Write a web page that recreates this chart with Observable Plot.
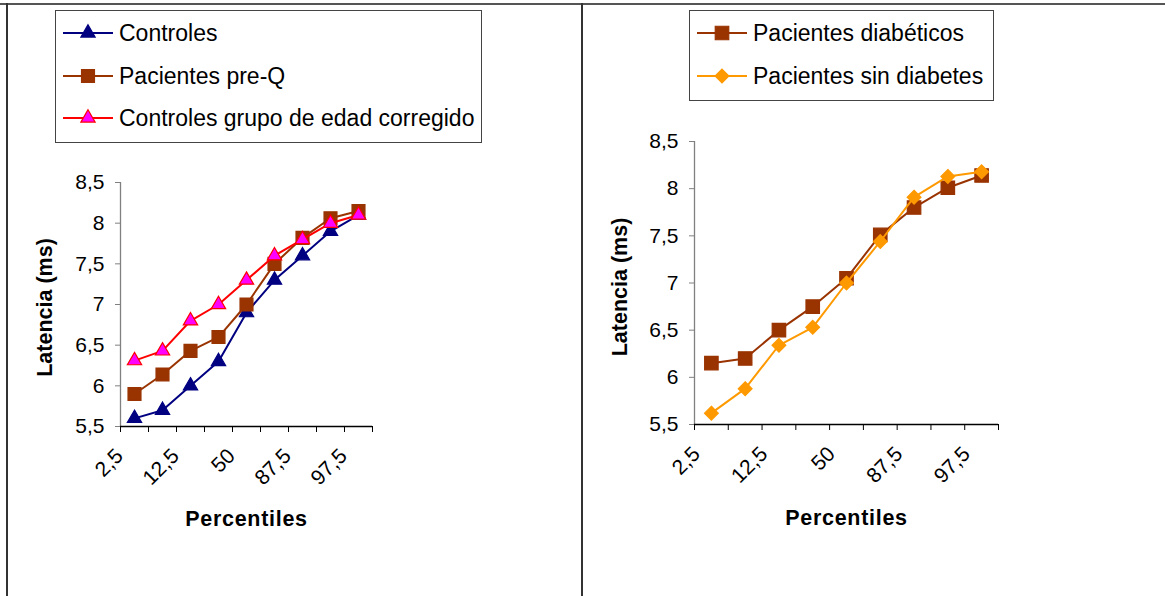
<!DOCTYPE html>
<html><head><meta charset="utf-8">
<script src="https://cdn.jsdelivr.net/npm/d3@7"></script>
<script src="https://cdn.jsdelivr.net/npm/@observablehq/plot@0.6"></script>
<style>
body{margin:0;background:#fff;font-family:"Liberation Sans",Arial,sans-serif;}
#page{position:relative;width:1165px;height:596px;overflow:hidden;background:#fff;}
.panel{position:absolute;top:0;}
.panel svg{display:block;}
.legend{position:absolute;border:1px solid #444;background:#fff;box-sizing:border-box;color:#000;}
.item{position:absolute;display:flex;align-items:center;white-space:nowrap;height:26px;font-size:23px;line-height:26px;}
.item svg{flex:none;margin-right:6px;}
.rule{position:absolute;background:#333;}
</style></head><body><div id="page"></div>
<script>
// ---- data ----
const percentiles = ["2,5","5","12,5","25","50","75","87,5","95","97,5"];
const xTickLabels = ["2,5","12,5","50","87,5","97,5"];
const yTicks = [5.5,6,6.5,7,7.5,8,8.5];
const controles      = [5.6, 5.7, 6.0, 6.3, 6.9, 7.3, 7.6, 7.9, 8.1];
const pacientesPreQ  = [5.9, 6.14, 6.43, 6.6, 7.0, 7.5, 7.82, 8.06, 8.15];
const controlesEdad  = [6.31, 6.43, 6.8, 7.0, 7.3, 7.6, 7.8, 8.0, 8.1];
const diabeticos     = [6.15, 6.2, 6.5, 6.75, 7.05, 7.51, 7.8, 8.01, 8.14];
const sinDiabetes    = [5.62, 5.88, 6.34, 6.53, 7.0, 7.44, 7.91, 8.13, 8.18];

const seriesLeft = [
  {name:"Controles", values:controles, line:"#000080", fill:"#000080", stroke:"#000080", symbol:"triangle", r:5.3},
  {name:"Pacientes pre-Q", values:pacientesPreQ, line:"#993300", fill:"#993300", stroke:"#993300", symbol:"square", r:7.3},
  {name:"Controles grupo de edad corregido", values:controlesEdad, line:"#FF0000", fill:"#FF00FF", stroke:"#FF0000", symbol:"triangle", r:5.3}
];
const seriesRight = [
  {name:"Pacientes diabéticos", values:diabeticos, line:"#993300", fill:"#993300", stroke:"#993300", symbol:"square", r:7.6},
  {name:"Pacientes sin diabetes", values:sinDiabetes, line:"#FF9900", fill:"#FF9900", stroke:"#FF9900", symbol:"diamond2", r:6.2}
];

const page = document.getElementById("page");
const H = 596;
const fmt = d => String(d).replace(".", ",");
const symbolMap = {triangle: d3.symbolTriangle, square: d3.symbolSquare, diamond2: d3.symbolDiamond2 || d3.symbolDiamond};

function panel(cfg) {
  const n = percentiles.length;
  const marks = [
    Plot.ruleX([-0.5], {stroke:"#808080", strokeWidth:1.3}),
    Plot.axisY({ticks: yTicks, tickFormat: fmt, tickSize: 5, tickPadding: 11, stroke:"#808080", color:"#000", fontSize: 21, label: null}),
    Plot.axisX({ticks: d3.range(n + 1).map(k => k - 0.5), tickSize: 6, tickFormat: () => "", stroke:"#000", label: null}),
    Plot.ruleY([5.5], {stroke:"#000", strokeWidth:1.3}),
    Plot.text(xTickLabels.map(l => ({i: percentiles.indexOf(l), l})), {
      x: "i", text: "l", frameAnchor: "bottom", rotate: -45, textAnchor: "end", lineAnchor: "middle",
      dx: -15, dy: 26, fontSize: 21, fill: "#000"}),
    Plot.text(["Latencia (ms)"], {text: d => d, frameAnchor: "left", rotate: -90, dx: cfg.yTitleX - cfg.x0, dy: cfg.yTitleDy,
      fontWeight: "bold", fontSize: 21.5, fill: "#000", textAnchor: "middle", lineAnchor: "middle"}),
    Plot.text(["Percentiles"], {text: d => d, frameAnchor: "bottom", dy: cfg.xTitleDy, fontWeight: "bold", fontSize: 21.5,
      fill: "#000", textAnchor: "middle", lineAnchor: "middle", className: "xtitle"})
  ];
  for (const s of cfg.series) {
    const rows = s.values.map((v, i) => ({i, v}));
    marks.push(Plot.line(rows, {x: "i", y: "v", stroke: s.line, strokeWidth: 2}));
    marks.push(Plot.dot(rows, {x: "i", y: "v", symbol: s.symbol, r: s.r, fill: s.fill, stroke: s.stroke, strokeWidth: 1.2}));
  }
  const svg = Plot.plot({
    width: cfg.width, height: H,
    marginLeft: cfg.x0, marginRight: cfg.width - cfg.x1, marginTop: cfg.y0, marginBottom: H - cfg.y1,
    x: {type: "linear", domain: [-0.5, n - 0.5]},
    y: {domain: [5.5, 8.5]},
    style: {fontFamily: "'Liberation Sans', Arial, sans-serif", fontSize: "21px", color: "#000", background: "transparent", overflow: "visible"},
    marks
  });
  d3.select(svg).selectAll(".xtitle text").style("letter-spacing", "0.7px");
  const div = document.createElement("div");
  div.className = "panel";
  div.style.left = cfg.left + "px";
  div.appendChild(svg);
  page.appendChild(div);

  // legend
  const lg = document.createElement("div");
  lg.className = "legend";
  Object.assign(lg.style, {left: cfg.legend.left + "px", top: cfg.legend.top + "px", width: cfg.legend.width + "px", height: cfg.legend.height + "px"});
  cfg.series.forEach((s, k) => {
    const it = document.createElement("div");
    it.className = "item";
    it.style.left = "7px";
    it.style.top = (cfg.legend.rows[k] - cfg.legend.top - 1 - 13) + "px";
    const sw = d3.create("svg").attr("width", 50).attr("height", 26);
    sw.append("line").attr("x1", 0).attr("x2", 50).attr("y1", 13).attr("y2", 13).attr("stroke", s.line).attr("stroke-width", 2);
    sw.append("path").attr("transform", "translate(25,13)")
      .attr("d", d3.symbol(symbolMap[s.symbol], Math.PI * s.r * s.r)())
      .attr("fill", s.fill).attr("stroke", s.stroke).attr("stroke-width", 1.2);
    it.appendChild(sw.node());
    const t = document.createElement("span");
    t.textContent = s.name;
    it.appendChild(t);
    lg.appendChild(it);
  });
  page.appendChild(lg);
}

panel({left: 0, width: 580, x0: 120, x1: 372, y0: 182, y1: 426, series: seriesLeft,
  yTitleX: 45, yTitleDy: 3, xTitleDy: 93,
  legend: {left: 55, top: 10, width: 427, height: 133, rows: [33, 76, 118]}});
panel({left: 582, width: 583, x0: 112, x1: 416, y0: 141, y1: 424, series: seriesRight,
  yTitleX: 38, yTitleDy: 4, xTitleDy: 94,
  legend: {left: 689, top: 10, width: 305, height: 91, rows: [33, 76]}});

// outer frame lines of the figure
function rule(l, t, w, h, c) {
  const r = document.createElement("div");
  r.className = "rule";
  Object.assign(r.style, {left: l + "px", top: t + "px", width: w + "px", height: h + "px", background: c});
  page.appendChild(r);
}
rule(0, 3, 1165, 1.5, "#555");
rule(6, 3, 2, 593, "#333");
rule(581, 3, 2, 593, "#333");
</script></body></html>
